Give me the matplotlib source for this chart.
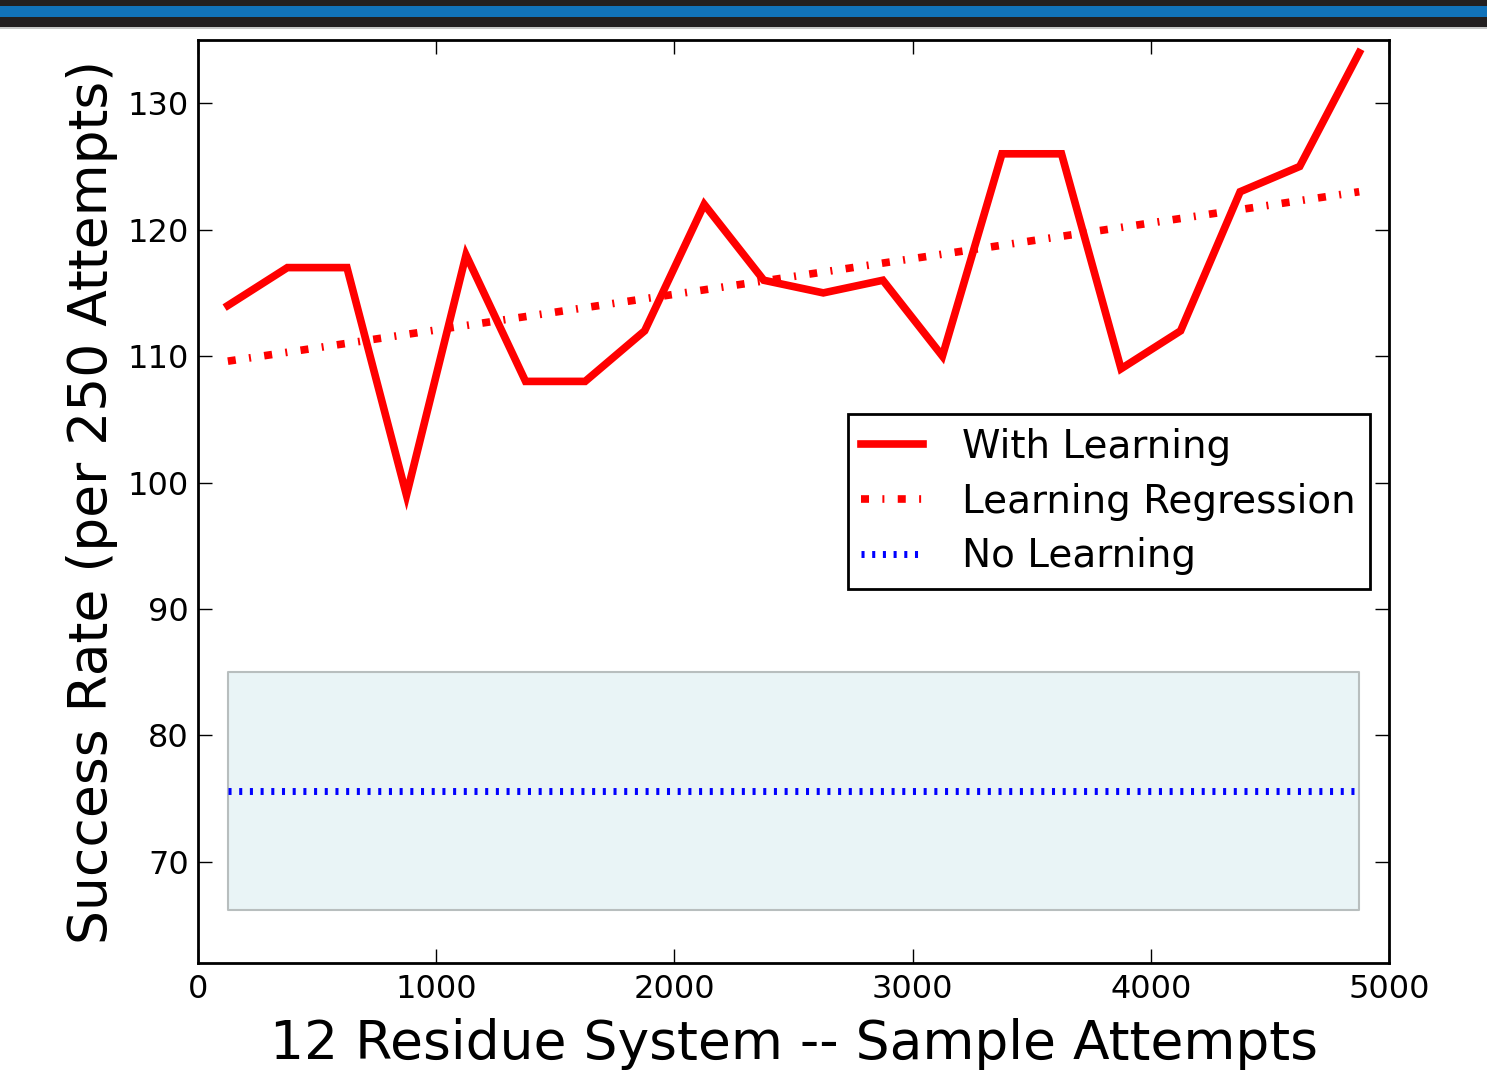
import matplotlib
matplotlib.use('Agg')
import matplotlib.pyplot as plt
from matplotlib.patches import Rectangle

# sample attempt midpoints (bins of 250)
attempts = [125, 375, 625, 875, 1125, 1375, 1625, 1875, 2125, 2375,
            2625, 2875, 3125, 3375, 3625, 3875, 4125, 4375, 4625, 4875]
with_learning = [114, 117, 117, 99, 118, 108, 108, 112, 122, 116,
                 115, 116, 110, 126, 126, 109, 112, 123, 125, 134]

# regression line endpoints
reg_x = [125, 4875]
reg_y = [109.6, 123.0]

# no-learning mean and spread band
no_learn_x = [125, 4875]
no_learn_mean = [75.6, 75.6]
band_low = [66.2, 66.2]
band_high = [85.0, 85.0]

xticks = [0, 1000, 2000, 3000, 4000, 5000]
yticks = [70, 80, 90, 100, 110, 120, 130]


def main():
    fig = plt.figure(figsize=(14.87, 10.70), dpi=100)

    # header strip
    fig.add_artist(Rectangle((0, 1 - 27 / 1070), 1, 27 / 1070, transform=fig.transFigure,
                             facecolor='#231f20', edgecolor='none'))
    fig.add_artist(Rectangle((0, 1 - 16.5 / 1070), 1, 10.5 / 1070, transform=fig.transFigure,
                             facecolor='#1172ba', edgecolor='none'))
    fig.add_artist(Rectangle((0, 1 - 28.5 / 1070), 1, 1.5 / 1070, transform=fig.transFigure,
                             facecolor='#c8c8c8', edgecolor='none'))

    ax = fig.add_axes([0.1332, 0.1, 0.8009, 0.8626])

    ax.fill_between(no_learn_x, band_low, band_high, facecolor='#e9f4f6',
                    edgecolor='#b8bebe', linewidth=1.5, zorder=1)
    ax.plot(attempts, with_learning, color='red', linewidth=5.5, label='With Learning',
            solid_joinstyle='miter', zorder=3)
    ax.plot(reg_x, reg_y, color='red', linewidth=5.5, dashes=(1.05, 1.75, 0.26, 1.75),
            dash_capstyle='butt', label='Learning Regression', zorder=3)
    ax.plot(no_learn_x, no_learn_mean, color='blue', linewidth=5, dashes=(0.44, 1.1),
            dash_capstyle='butt', label='No Learning', zorder=2)

    ax.set_xlim(0, 5000)
    ax.set_ylim(62, 135)
    ax.set_xticks(xticks)
    ax.set_yticks(yticks)
    ax.tick_params(direction='in', length=10, width=1, labelsize=23,
                   top=True, right=True)
    ax.tick_params(axis='x', pad=8)
    ax.tick_params(axis='y', pad=6.5)
    for s in ax.spines.values():
        s.set_linewidth(2)

    ax.set_xlabel('12 Residue System -- Sample Attempts', fontsize=38.5, labelpad=9.5)
    ax.set_ylabel('Success Rate (per 250 Attempts)', fontsize=38.5, labelpad=7)

    leg = ax.legend(loc='center right', bbox_to_anchor=(1.0, 0.5), fontsize=28,
                    fancybox=False, framealpha=1, edgecolor='black',
                    handlelength=1.6, handletextpad=1.0, borderaxespad=0.5,
                    labelspacing=0.43, borderpad=0.35)
    leg.get_frame().set_linewidth(2)

    fig.savefig('out.png', dpi=100)


if __name__ == '__main__':
    main()
